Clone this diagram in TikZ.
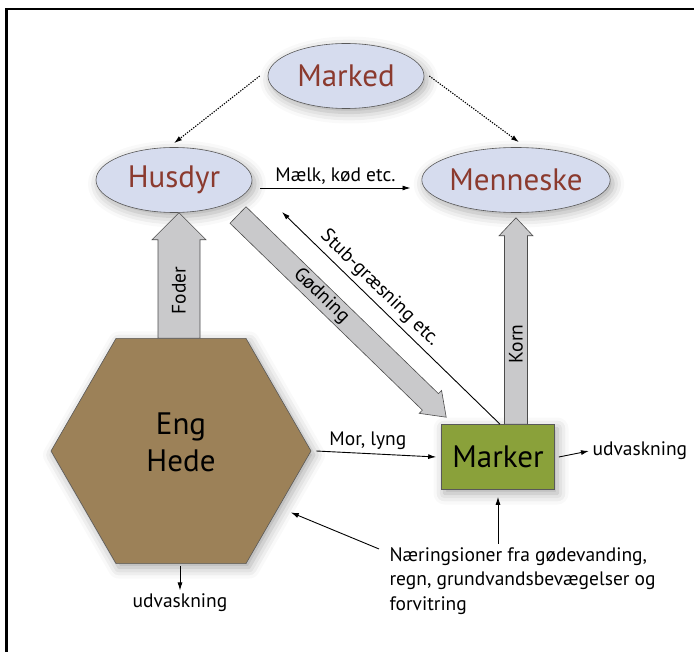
\documentclass[tikz,border=0pt]{standalone}
\usepackage{fontspec}
\setmainfont{PT Sans}
\usetikzlibrary{calc,positioning,arrows.meta,shapes.geometric,shadows.blur}
\definecolor{ovalfill}{HTML}{D6DCEE}
\definecolor{ovaltext}{HTML}{8B3A2E}
\definecolor{hedefill}{HTML}{9C8158}
\definecolor{markerfill}{HTML}{8AA13A}
\definecolor{flowfill}{HTML}{C9C9CB}

% broad flow arrow: from, to, half shaft, half head, head length
\newcommand{\flowarrow}[5]{%
  \coordinate (fa-h) at ($(#2)!#5!(#1)$);
  \filldraw[flow] ($(#1)!#3!90:(#2)$) -- ($(fa-h)!#3!-90:(#1)$)
    -- ($(fa-h)!#4!-90:(#1)$) -- (#2) -- ($(fa-h)!#4!90:(#1)$)
    -- ($(fa-h)!#3!90:(#1)$) -- ($(#1)!#3!-90:(#2)$) -- cycle;
}

\begin{document}
\begin{tikzpicture}[x=1pt, y=-1pt, >={Latex[length=8pt,width=5pt]},
  every node/.style={font=\fontsize{19.5}{22}\selectfont},
  softshadow/.style={blur shadow={shadow xshift=3pt, shadow yshift=-4pt,
      shadow blur radius=11pt, shadow opacity=35}},
  oval/.style={ellipse, draw=black!65, line width=0.6pt, fill=ovalfill,
      text=ovaltext, minimum height=65pt, inner sep=0pt, softshadow,
      font=\fontsize{31}{34}\selectfont},
  hexbox/.style={regular polygon, regular polygon sides=6, minimum size=260pt,
      inner sep=0pt, draw=black!65, line width=0.6pt, fill=hedefill,
      align=center, softshadow, font=\fontsize{31}{37}\selectfont},
  fieldbox/.style={rectangle, draw=black!65, line width=0.6pt, fill=markerfill,
      minimum width=113pt, minimum height=65pt, softshadow,
      font=\fontsize{31}{34}\selectfont},
  flow/.style={draw=black!70, line width=0.6pt, fill=flowfill},
  link/.style={->, line width=0.9pt},
  dotlink/.style={->, line width=1.1pt, dash pattern=on 1.3pt off 1.3pt}]

\useasboundingbox (0,0) rectangle (694,652);

% frame
\draw[line width=2.6pt] (6.5,652) -- (6.5,9) -- (694,9);

% ovals
\node[oval, minimum width=156pt] (marked) at (346,76) {Marked};
\node[oval, minimum width=156pt] (husdyr) at (174,180) {Husdyr};
\node[oval, minimum width=164pt] (menneske) at (516,180) {Menneske};

% land
\node[hexbox] (hede) at (181,451) {Eng\\Hede\rule[-18pt]{0pt}{0pt}};
\node[fieldbox] (marker) at (498,457) {Marker};

% broad flows
\coordinate (foder-a) at ([xshift=-2pt]hede.north);
\coordinate (foder-b) at (foder-a |- husdyr.south);
\flowarrow{foder-a}{foder-b}{21pt}{27pt}{27pt}
\path (foder-a) -- (foder-b) node[pos=0.38, sloped] {Foder};

\coordinate (korn-a) at (marker.north -| menneske.south);
\coordinate (korn-b) at ([yshift=-5pt]menneske.south);
\flowarrow{korn-a}{korn-b}{11.5pt}{17pt}{18pt}
\path (korn-a) -- (korn-b) node[pos=0.39, sloped] {Korn};

\coordinate (goed-a) at ($(husdyr.center)+(64,35)$);
\coordinate (goed-b) at ($(marker.north west)+(5,-7)$);
\flowarrow{goed-a}{goed-b}{11.5pt}{16pt}{22pt}
\path (goed-a) -- (goed-b) node[pos=0.4, sloped] {Gødning};

% thin flows
\coordinate (stub) at ($(husdyr.center)+(108,32)$);
\draw[link] ([xshift=2pt]marker.north) -- (stub);
\path (stub) -- ([xshift=2pt]marker.north)
  node[pos=0.405, sloped, above=1pt] {Stub-græsning etc.};

\draw[dotlink] ([xshift=-8pt]marked.west) -- ([yshift=4pt]husdyr.north);
\draw[dotlink] ([xshift=5pt]marked.east) -- ([shift={(3pt,5pt)}]menneske.north);

\draw[link] ([shift={(8pt,-8pt)}]husdyr.east) -- ([shift={(-11pt,-8pt)}]menneske.west)
  node[midway, above] {Mælk, kød etc.};
\draw[link] ([xshift=5pt]hede.east) -- ([xshift=-5pt]marker.west)
  node[pos=0.43, above] {Mor, lyng};

% leaching
\node[anchor=west] (udv-m) at (589,451) {udvaskning};
\draw[link] ([xshift=4pt]marker.east) -- (udv-m.west);
\node (udv-h) at (180,603) {udvaskning};
\draw[link] ([yshift=-2pt]hede.south -| udv-h.north) -- (udv-h.north);

% nutrients
\node[anchor=west, align=left, font=\fontsize{19.5}{24.5}\selectfont] (naer) at (386,581)
  {Næringsioner fra gødevanding,\\regn, grundvandsbevægelser og\\forvitring};
\draw[link] (naer.north -| marker.south) -- ([yshift=-7pt]marker.south);
\draw[link, shorten >=13pt] ([shift={(-7pt,-5pt)}]naer.north west) -- (hede.-30);

\end{tikzpicture}
\end{document}
